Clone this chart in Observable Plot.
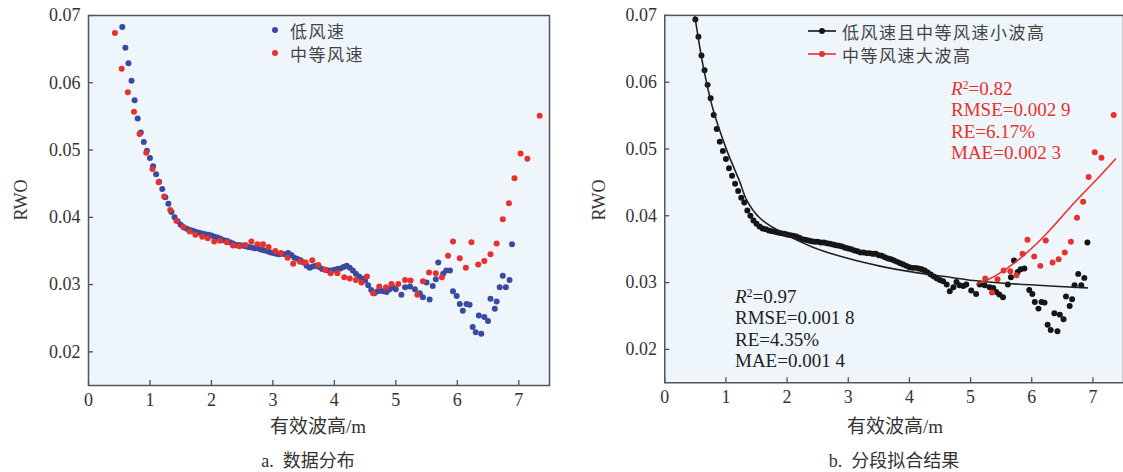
<!DOCTYPE html>
<html><head><meta charset="utf-8">
<script src="https://cdn.jsdelivr.net/npm/d3@7"></script>
<script src="https://cdn.jsdelivr.net/npm/@observablehq/plot@0.6"></script>
<style>
html,body{margin:0;padding:0;background:#fff;overflow:hidden;width:1123px;height:472px;}
#wrap{position:relative;width:1123px;height:472px;overflow:hidden;}
.panel{position:absolute;top:0;}
.txt{position:absolute;white-space:nowrap;transform:translateY(-50%);line-height:1;}
.cap{position:absolute;white-space:pre;transform:translate(-50%,-50%);font-family:'Liberation Serif','Noto Sans CJK SC',serif;font-size:18px;color:#333;line-height:1;}
.ylab{position:absolute;white-space:nowrap;transform:translate(-50%,-50%) rotate(-90deg);font-family:'Liberation Serif',serif;font-size:18px;color:#333;line-height:1;}
.leg{font-family:'Noto Sans CJK SC',sans-serif;font-size:17px;color:#444;letter-spacing:1.5px;}
.stat{font-family:'Liberation Serif',serif;font-size:19px;}
</style></head><body>
<div id="wrap">
  <div id="left" class="panel" style="left:0px"></div>
  <div id="right" class="panel" style="left:561px"></div>
</div>
<script>
// ---- data ----
const xTicks = [0, 1, 2, 3, 4, 5, 6, 7];
const yTicks = [0.02, 0.03, 0.04, 0.05, 0.06, 0.07];

// 低风速 (panel a, blue)
const lowWind = [
[0.55,0.0683],[0.60,0.0652],[0.65,0.0629],[0.70,0.0603],[0.75,0.0574],[0.80,0.0547],[0.85,0.0526],[0.90,0.0512],
[0.95,0.0499],[1.00,0.0488],[1.05,0.0476],[1.10,0.0464],[1.15,0.0453],[1.20,0.0442],[1.25,0.0430],[1.30,0.0420],
[1.35,0.0408],[1.40,0.0400],[1.45,0.0394],[1.50,0.0389],[1.55,0.0385],[1.60,0.0383],[1.65,0.0381],[1.70,0.0380],
[1.75,0.0378],[1.80,0.0377],[1.85,0.0376],[1.90,0.0375],[1.95,0.0374],[2.00,0.0373],[2.05,0.0371],[2.10,0.0370],
[2.15,0.0368],[2.20,0.0366],[2.25,0.0365],[2.30,0.0363],[2.35,0.0361],[2.40,0.0359],[2.45,0.0359],[2.50,0.0358],
[2.55,0.0357],[2.60,0.0356],[2.65,0.0355],[2.70,0.0354],[2.75,0.0354],[2.80,0.0352],[2.85,0.0351],[2.90,0.0350],
[2.95,0.0348],[3.00,0.0347],[3.05,0.0346],[3.10,0.0345],[3.15,0.0346],[3.20,0.0345],[3.25,0.0347],[3.30,0.0344],
[3.35,0.0340],[3.40,0.0338],[3.45,0.0336],[3.50,0.0333],[3.55,0.0328],[3.60,0.0325],[3.65,0.0327],[3.70,0.0328],
[3.75,0.0326],[3.80,0.0323],[3.85,0.0322],[3.90,0.0321],[3.95,0.0321],[4.00,0.0322],[4.05,0.0323],[4.10,0.0324],
[4.15,0.0326],[4.20,0.0328],[4.25,0.0325],[4.30,0.0321],[4.35,0.0316],[4.40,0.0312],[4.45,0.0309],[4.50,0.0306],
[4.55,0.0299],[4.60,0.0292],[4.65,0.0287],[4.70,0.0290],[4.75,0.0291],[4.80,0.0290],[4.85,0.0289],[4.90,0.0293],
[4.95,0.0296],[5.00,0.0293],[5.09,0.0285],[5.15,0.0296],[5.23,0.0297],[5.31,0.0293],[5.39,0.0287],[5.44,0.0281],
[5.50,0.0303],[5.55,0.0278],[5.60,0.0298],[5.65,0.0308],[5.69,0.0333],[5.77,0.0316],[5.82,0.0321],[5.88,0.0321],
[5.93,0.0290],[5.99,0.0283],[6.04,0.0271],[6.09,0.0261],[6.15,0.0271],[6.20,0.0270],[6.25,0.0237],[6.30,0.0229],
[6.35,0.0254],[6.39,0.0227],[6.44,0.0252],[6.50,0.0246],[6.54,0.0279],[6.61,0.0264],[6.64,0.0275],[6.69,0.0296],
[6.74,0.0313],[6.79,0.0296],[6.85,0.0307],[6.89,0.0360]
];

// 中等风速 (red)
const midWind = [
[0.43,0.0674],[0.54,0.0621],[0.64,0.0586],[0.74,0.0557],[0.83,0.0524],[0.94,0.0496],[1.04,0.0472],[1.14,0.0452],
[1.23,0.0431],[1.33,0.0411],[1.43,0.0395],[1.54,0.0386],[1.645,0.0379],[1.74,0.0374],[1.85,0.0371],[1.94,0.0369],
[2.045,0.0364],[2.14,0.0365],[2.25,0.0363],[2.35,0.0358],[2.45,0.0357],[2.55,0.0359],[2.65,0.0364],[2.75,0.0360],
[2.84,0.0360],[2.93,0.0356],[3.04,0.0350],[3.13,0.0347],[3.24,0.0340],[3.33,0.0331],[3.44,0.0334],[3.53,0.0333],
[3.64,0.0336],[3.74,0.0329],[3.85,0.0322],[3.94,0.0317],[4.05,0.0317],[4.16,0.0311],[4.25,0.0309],[4.35,0.0307],
[4.44,0.0303],[4.53,0.0312],[4.63,0.0287],[4.73,0.0297],[4.84,0.0296],[4.93,0.0301],[5.04,0.0301],[5.15,0.0307],
[5.24,0.0306],[5.35,0.0285],[5.44,0.0305],[5.54,0.0318],[5.65,0.0317],[5.75,0.0311],[5.85,0.0343],[5.93,0.0364],
[6.04,0.0339],[6.14,0.0325],[6.23,0.0363],[6.34,0.0330],[6.44,0.0335],[6.54,0.0345],[6.64,0.0361],[6.74,0.0397],
[6.84,0.0421],[6.93,0.0458],[7.03,0.0495],[7.14,0.0487],[7.34,0.0551]
];

// 低风速且中等风速小波高 (panel b, black)
const combined = [
[0.50,0.0694],[0.55,0.0668],[0.60,0.0640],[0.65,0.0618],[0.70,0.0596],[0.75,0.0576],[0.80,0.0551],[0.85,0.0530],
[0.90,0.0511],[0.95,0.0497],[1.00,0.0485],[1.05,0.0471],[1.10,0.0460],[1.15,0.0448],[1.20,0.0437],[1.25,0.0427],
[1.30,0.0420],[1.35,0.0408],[1.40,0.0400],[1.45,0.0393],[1.50,0.0388],[1.55,0.0384],[1.60,0.0381],[1.65,0.0380],
[1.70,0.0378],[1.75,0.0377],[1.80,0.0376],[1.85,0.0375],[1.90,0.0374],[1.95,0.0373],[2.00,0.0372],[2.05,0.0371],
[2.10,0.0370],[2.15,0.0369],[2.20,0.0367],[2.25,0.0365],[2.30,0.0364],[2.35,0.0363],[2.40,0.0362],[2.45,0.0361],
[2.50,0.0361],[2.55,0.0360],[2.60,0.0360],[2.65,0.0359],[2.70,0.0358],[2.75,0.0357],[2.80,0.0356],[2.85,0.0355],
[2.90,0.0354],[2.95,0.0352],[3.00,0.0351],[3.05,0.0350],[3.10,0.0348],[3.15,0.0347],[3.20,0.0345],[3.25,0.0345],
[3.30,0.0344],[3.35,0.0344],[3.40,0.0343],[3.45,0.0343],[3.50,0.0341],[3.55,0.0340],[3.60,0.0338],[3.65,0.0336],
[3.70,0.0335],[3.75,0.0333],[3.80,0.0331],[3.85,0.0329],[3.90,0.0327],[3.95,0.0325],[4.00,0.0323],[4.05,0.0322],
[4.10,0.0322],[4.15,0.0321],[4.20,0.0320],[4.25,0.0318],[4.30,0.0315],[4.35,0.0312],[4.40,0.0309],[4.45,0.0306],
[4.50,0.0304],[4.55,0.0302],[4.61,0.0297],[4.66,0.0287],[4.72,0.0293],[4.77,0.0301],[4.82,0.0296],[4.88,0.0295],
[4.93,0.0297],[5.01,0.0288],[5.09,0.0283],[5.15,0.0297],[5.23,0.0296],[5.31,0.0293],[5.37,0.0292],[5.42,0.0286],
[5.47,0.0282],[5.53,0.0278],[5.61,0.0297],[5.66,0.0308],[5.71,0.0333],[5.77,0.0316],[5.82,0.0320],[5.88,0.0321],
[5.96,0.0289],[6.01,0.0283],[6.05,0.0271],[6.11,0.0261],[6.16,0.0271],[6.21,0.0270],[6.26,0.0237],[6.31,0.0229],
[6.37,0.0254],[6.42,0.0227],[6.46,0.0252],[6.52,0.0245],[6.56,0.0279],[6.62,0.0265],[6.66,0.0275],[6.70,0.0296],
[6.76,0.0313],[6.81,0.0296],[6.86,0.0307],[6.91,0.0360]
];

// fitted curves
const fitLow = [
[0.49,0.0700],[0.63,0.0623],[0.79,0.0559],[1.01,0.0499],[1.23,0.0450],[1.33,0.0425],[1.55,0.0397],[1.875,0.0377],
[2.42,0.0353],[2.96,0.0337],[3.50,0.0325],[4.04,0.0316],[4.58,0.0309],[5.05,0.0303],[5.56,0.0299],[6.10,0.0296],[6.91,0.0292]
];
const fitHigh = [
[5.10,0.0298],[5.30,0.0305],[5.56,0.0319],[5.82,0.0337],[6.10,0.0360],[6.37,0.0386],[6.64,0.0414],[6.91,0.0440],
[7.15,0.0463],[7.37,0.0485]
];
const highWaveStart = 5.2;

const legendA = ["低风速", "中等风速"];
const legendB = ["低风速且中等风速小波高", "中等风速大波高"];
const statsLow = ["=0.97", "RMSE=0.001 8", "RE=4.35%", "MAE=0.001 4"];
const statsHigh = ["=0.82", "RMSE=0.002 9", "RE=6.17%", "MAE=0.002 3"];
const xLabel = "有效波高/m";
const yLabel = "RWO";
const captions = ["a.  数据分布", "b.  分段拟合结果"];

// ---- styles ----
const BLUE = "#3a4a9f", RED = "#e8312e", BLACK = "#151515";
const H = 440, MT = 15, MB = 55, TICK = 5;

function panel(width, marginLeft, marginRight, marks) {
  const innerW = width - marginLeft - marginRight, innerH = H - MT - MB;
  return Plot.plot({
    width, height: H, marginLeft, marginRight, marginTop: MT, marginBottom: MB,
    x: {domain: [0, 7.5]},
    y: {domain: [0.015, 0.07]},
    style: {fontFamily: "'Liberation Serif','Noto Sans CJK SC',serif", fontSize: "18px", color: "#333", background: "transparent", overflow: "visible"},
    marks: [
      Plot.frame({fill: "#eef6fb", stroke: null}),
      Plot.axisX({ticks: xTicks, tickSize: 0, tickPadding: 8, tickFormat: d => String(d), label: null}),
      Plot.axisY({ticks: yTicks, tickSize: 0, tickPadding: 8, tickFormat: d3.format(".2f"), label: null}),
      // inward tick marks
      Plot.ruleX(xTicks, {insetTop: innerH - TICK, stroke: "#444", strokeWidth: 1.2}),
      Plot.ruleY(yTicks, {insetRight: innerW - TICK, stroke: "#444", strokeWidth: 1.2}),
      ...marks,
      Plot.frame({stroke: "#555", strokeWidth: 1.5})
    ]
  });
}

const left = panel(561, 88, 12, [
  Plot.dot(lowWind, {x: d => d[0], y: d => d[1], r: 3, fill: BLUE}),
  Plot.dot(midWind, {x: d => d[0], y: d => d[1], r: 3, fill: RED})
]);
document.getElementById("left").append(left);

const highWave = midWind.filter(d => d[0] >= highWaveStart);
const right = panel(566, 104, 0, [
  Plot.dot(combined, {x: d => d[0], y: d => d[1], r: 3, fill: BLACK}),
  Plot.dot(highWave, {x: d => d[0], y: d => d[1], r: 3, fill: RED}),
  Plot.line(fitLow, {x: d => d[0], y: d => d[1], stroke: "#222", strokeWidth: 1.6, curve: "catmull-rom", clip: true}),
  Plot.line(fitHigh, {x: d => d[0], y: d => d[1], stroke: RED, strokeWidth: 1.6, curve: "catmull-rom", clip: true})
]);
document.getElementById("right").append(right);

// ---- legends, axis titles, stats, captions (HTML) ----
const wrap = document.getElementById("wrap");
function add(html, cls, style) {
  const d = document.createElement("div");
  d.className = cls; d.innerHTML = html; Object.assign(d.style, style); wrap.append(d); return d;
}
const legAColors = [BLUE, RED];
legendA.forEach((t, i) => {
  const y = 30 + i * 23;
  add(`<svg width="8" height="8" style="display:block"><circle cx="4" cy="4" r="3" fill="${legAColors[i]}"/></svg>`, "txt", {left: "271px", top: y + "px"});
  add(t, "txt leg", {left: "290px", top: y + "px"});
});
const legBColors = [BLACK, RED];
legendB.forEach((t, i) => {
  const y = 31 + i * 23;
  add(`<svg width="28" height="8" style="display:block"><line x1="0" y1="4" x2="28" y2="4" stroke="${legBColors[i]}" stroke-width="1.6"/><circle cx="14" cy="4" r="3" fill="${legBColors[i]}"/></svg>`, "txt", {left: "808px", top: y + "px"});
  add(t, "txt leg", {left: "842px", top: y + "px"});
});
function stats(lines, x, y0, color) {
  lines.forEach((t, i) => {
    const html = i === 0 ? `<i>R</i><span style="font-size:12px;vertical-align:6px">2</span>${t}` : t;
    add(html, "txt stat", {left: x + "px", top: (y0 + i * 21.3) + "px", color});
  });
}
stats(statsHigh, 951, 88, RED);
stats(statsLow, 735, 296, "#222");
add(yLabel, "ylab", {left: "21px", top: "200px"});
add(yLabel, "ylab", {left: "599px", top: "200px"});
add(xLabel, "cap", {left: "318px", top: "426px", fontSize: "19px"});
add(xLabel, "cap", {left: "895px", top: "426px", fontSize: "19px"});
add(captions[0], "cap", {left: "308px", top: "461px"});
add(captions[1], "cap", {left: "894px", top: "461px"});
</script>
</body></html>
